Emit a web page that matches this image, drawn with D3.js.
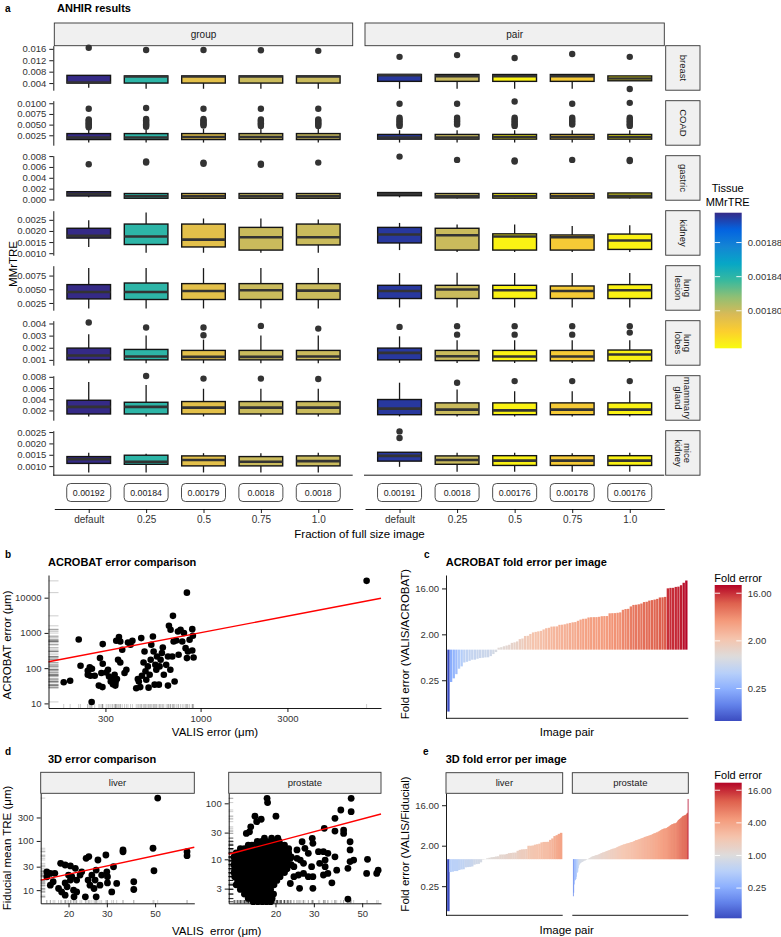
<!DOCTYPE html>
<html><head><meta charset="utf-8">
<script src="https://cdn.jsdelivr.net/npm/d3@7"></script>
<style>
body{margin:0;background:#fff;}
svg{display:block;}
</style></head><body>
<script>
// ================= DATA =================
// ---- panel a ----
const fractions = ["default","0.25","0.5","0.75","1.0"];
const modes = ["group","pair"];
const tissues = ["breast","COAD","gastric","kidney","lung lesion","lung lobes","mammary gland","mice kidney"];
const tissueStripLines = [["breast"],["COAD"],["gastric"],["kidney"],["lung","lesion"],["lung","lobes"],["mammary","gland"],["mice","kidney"]];
const meanGroup = [0.00192,0.00184,0.00179,0.0018,0.0018];
const meanPair  = [0.00191,0.0018,0.00176,0.00178,0.00176];
const meanGroupLabels = ["0.00192","0.00184","0.00179","0.0018","0.0018"];
const meanPairLabels  = ["0.00191","0.0018","0.00176","0.00178","0.00176"];
// each box: [lowerWhisker, q1, median, q3, upperWhisker, outliers]; 5 group boxes then 5 pair boxes
const breastBoxes = [
 [0.0024,0.0040,0.0042,0.0067,0.0067,[0.0164]],
 [0.0020,0.0040,0.0063,0.0065,0.0065,[0.0156]],
 [0.0020,0.0040,0.0063,0.0065,0.0065,[0.0156]],
 [0.0020,0.0040,0.0063,0.0065,0.0065,[0.0155]],
 [0.0020,0.0040,0.0063,0.0065,0.0065,[0.0153]],
 [0.0020,0.0046,0.0068,0.0070,0.0070,[0.0132]],
 [0.0020,0.0046,0.0064,0.0070,0.0070,[0.0138]],
 [0.0020,0.0046,0.0064,0.0070,0.0070,[0.0128]],
 [0.0020,0.0046,0.0064,0.0070,0.0070,[0.0142]],
 [0.0048,0.0048,0.0056,0.0065,0.0065,[0.0132,0.0019]]];
const coadBoxes = [
 [0.0008,0.0015,0.0020,0.0029,0.0039,[0.0087,0.0062,0.0059,0.0056,0.0053,0.0050,0.0047,0.0044]],
 [0.0008,0.0015,0.0020,0.0029,0.0039,[0.0089,0.0063,0.0060,0.0057,0.0054,0.0051,0.0048,0.0045]],
 [0.0008,0.0015,0.0021,0.0029,0.0040,[0.0087,0.0063,0.0060,0.0057,0.0054,0.0051,0.0048]],
 [0.0008,0.0015,0.0021,0.0029,0.0040,[0.0087,0.0062,0.0059,0.0056,0.0053,0.0050,0.0047]],
 [0.0008,0.0015,0.0021,0.0029,0.0040,[0.0087,0.0062,0.0059,0.0056,0.0053,0.0050,0.0047]],
 [0.0008,0.0016,0.0020,0.0027,0.0037,[0.0099,0.0066,0.0062,0.0058,0.0054,0.0050,0.0047]],
 [0.0008,0.0016,0.0020,0.0027,0.0037,[0.0099,0.0066,0.0062,0.0058,0.0054,0.0050]],
 [0.0008,0.0016,0.0021,0.0027,0.0037,[0.0104,0.0066,0.0062,0.0058,0.0054,0.0050,0.0047]],
 [0.0008,0.0016,0.0021,0.0027,0.0037,[0.0099,0.0066,0.0062,0.0058,0.0054,0.0050]],
 [0.0008,0.0016,0.0021,0.0027,0.0037,[0.0101,0.0066,0.0062,0.0058,0.0054,0.0050,0.0047]]];
const gastricBoxes = [
 [0.0004,0.00065,0.0010,0.00144,0.0015,[0.0065]],
 [0.0001,0.00023,0.0006,0.0011,0.0012,[0.0070,0.0068]],
 [0.0001,0.00023,0.0006,0.0011,0.0011,[0.0068,0.0066]],
 [0.0001,0.00023,0.0006,0.0011,0.0011,[0.0066,0.0064]],
 [0.0001,0.00023,0.0006,0.0011,0.0011,[0.0068]],
 [0.0004,0.00070,0.0010,0.00128,0.0013,[0.0079]],
 [0.0002,0.00030,0.0006,0.0011,0.0012,[0.0073]],
 [0.0002,0.00025,0.0006,0.0011,0.0012,[0.0072,0.0070]],
 [0.0002,0.00025,0.0006,0.0011,0.0011,[0.0073]],
 [0.0002,0.00030,0.0007,0.0012,0.0012,[0.0073,0.0071]]];
const kidneyBoxes = [
 [0.00128,0.00168,0.00178,0.00212,0.00248,[]],
 [0.00102,0.00139,0.00175,0.00231,0.00283,[]],
 [0.00102,0.00128,0.00161,0.00231,0.00256,[]],
 [0.00102,0.00114,0.00172,0.00216,0.00256,[]],
 [0.00102,0.00137,0.00172,0.00231,0.00251,[]],
 [0.00114,0.00146,0.00184,0.00216,0.00236,[]],
 [0.00105,0.00114,0.00181,0.00212,0.00229,[]],
 [0.00105,0.00114,0.00175,0.00187,0.00229,[]],
 [0.00105,0.00114,0.00172,0.00182,0.00222,[]],
 [0.00105,0.00117,0.00157,0.00186,0.00226,[]]];
const lungLesionBoxes = [
 [0.00150,0.00324,0.00451,0.00585,0.00886,[]],
 [0.00150,0.00313,0.00451,0.00614,0.00886,[]],
 [0.00150,0.00313,0.00469,0.00603,0.00886,[]],
 [0.00150,0.00313,0.00482,0.00603,0.00886,[]],
 [0.00150,0.00313,0.00476,0.00603,0.00886,[]],
 [0.00168,0.00331,0.00469,0.00572,0.00795,[]],
 [0.00168,0.00331,0.00495,0.00572,0.00800,[]],
 [0.00168,0.00331,0.00482,0.00572,0.00795,[]],
 [0.00168,0.00331,0.00469,0.00560,0.00795,[]],
 [0.00168,0.00331,0.00482,0.00585,0.00795,[]]];
const lungLobesBoxes = [
 [0.00072,0.00100,0.00136,0.00197,0.00311,[0.00408]],
 [0.00072,0.00100,0.00128,0.00186,0.00300,[0.00367]],
 [0.00072,0.00100,0.00125,0.00178,0.00267,[0.00367,0.00303]],
 [0.00072,0.00100,0.00125,0.00178,0.00300,[0.00380]],
 [0.00072,0.00100,0.00128,0.00178,0.00300,[0.00358]],
 [0.00075,0.00100,0.00158,0.00197,0.00294,[0.00372]],
 [0.00075,0.00094,0.00130,0.00178,0.00261,[0.00378,0.00308]],
 [0.00075,0.00092,0.00128,0.00178,0.00261,[0.00378,0.00308]],
 [0.00075,0.00092,0.00128,0.00178,0.00261,[0.00378,0.00308]],
 [0.00075,0.00092,0.00144,0.00181,0.00261,[0.00378,0.00325]]];
const mammaryBoxes = [
 [0.00094,0.00137,0.00263,0.00382,0.00706,[]],
 [0.00094,0.00137,0.00263,0.00346,0.00652,[0.00814]],
 [0.00094,0.00137,0.00250,0.00359,0.00587,[0.00768]],
 [0.00094,0.00137,0.00250,0.00359,0.00587,[0.00768]],
 [0.00094,0.00137,0.00250,0.00359,0.00587,[0.00760]],
 [0.00094,0.00124,0.00232,0.00395,0.00695,[]],
 [0.00094,0.00124,0.00214,0.00335,0.00575,[0.00695]],
 [0.00094,0.00124,0.00202,0.00335,0.00544,[0.00724]],
 [0.00094,0.00124,0.00214,0.00335,0.00544,[0.00724]],
 [0.00094,0.00124,0.00214,0.00335,0.00544,[0.00724]]];
const miceKidneyBoxes = [
 [0.00072,0.00112,0.00130,0.00142,0.00159,[]],
 [0.00072,0.00108,0.00119,0.00148,0.00154,[]],
 [0.00072,0.00101,0.00127,0.00145,0.00157,[]],
 [0.00072,0.00101,0.00119,0.00142,0.00157,[]],
 [0.00072,0.00101,0.00122,0.00145,0.00159,[]],
 [0.00097,0.00122,0.00145,0.00161,0.00161,[0.00253,0.00224]],
 [0.00075,0.00108,0.00127,0.00145,0.00159,[]],
 [0.00075,0.00103,0.00124,0.00146,0.00159,[]],
 [0.00075,0.00103,0.00124,0.00146,0.00157,[]],
 [0.00075,0.00103,0.00124,0.00146,0.00159,[]]];
const tissueBoxes = [breastBoxes,coadBoxes,gastricBoxes,kidneyBoxes,lungLesionBoxes,lungLobesBoxes,mammaryBoxes,miceKidneyBoxes];
const tissueYDomains = [[0.0015,0.0171],[0.00018,0.0106],[-0.00013,0.00807],[0.00091,0.00291],[0.00118,0.0093],[0.00056,0.00423],[0.00026,0.0082],[0.0006,0.00256]];
const tissueTicks = [[0.004,0.008,0.012,0.016],[0.0025,0.005,0.0075,0.01],[0,0.002,0.004,0.006,0.008],[0.001,0.0015,0.002,0.0025],[0.0025,0.005,0.0075],[0.001,0.002,0.003,0.004],[0.002,0.004,0.006,0.008],[0.001,0.0015,0.002,0.0025]];
const tissueTickLabels = [["0.004","0.008","0.012","0.016"],["0.0025","0.0050","0.0075","0.0100"],["0.000","0.002","0.004","0.006","0.008"],["0.0010","0.0015","0.0020","0.0025"],["0.0025","0.0050","0.0075"],["0.001","0.002","0.003","0.004"],["0.002","0.004","0.006","0.008"],["0.0010","0.0015","0.0020","0.0025"]];
const tissueLegendDomain = [0.001756,0.001915];
const tissueLegendTicks = [0.0018,0.00184,0.00188];
const tissueLegendLabels = ["0.00180","0.00184","0.00188"];

// ---- panel b : ACROBAT (VALIS error, ACROBAT error) in µm ----
const acrobatValis = [841,8170,177,192,214,219,240,246,253,240,248,252,262,276,280,290,285,289,290,303,310,314,321,327,330,337,340,344,347,352,356,362,362,341,371,382,391,399,412,422,443,452,458,466,472,476,486,492,498,503,513,518,525,532,536,547,552,559,564,571,576,590,595,603,613,620,628,647,662,670,682,699,662,705,711,720,684,735,751,757,776,793,810,827,841,852,870,900,907,900,915];
const acrobatErr   = [13900,30000,40,44,650,117,84,105,96,65,61,11,61,32,193,482,73,29,133,75,90,58,42,52,35,65,32,597,49,173,760,570,145,39,332,73,90,535,460,597,27,49,42,29,713,61,145,297,82,47,112,28,65,173,460,790,297,34,124,90,214,34,112,173,268,385,65,124,214,1590,90,214,32,3050,570,42,1225,610,1100,240,1225,570,990,370,193,297,640,1280,830,317,200];
const acrobatFit = [[146,152],[9800,9600]];
const acrobatXTicks = [300,1000,3000];
const acrobatYTicks = [10,100,1000,10000];

// ---- panel d : 3D (VALIS error, fiducial mean TRE) in µm ----
const liverValis = [51.4,15.9,16.5,17.3,18.4,19.3,20.4,21.5,16.5,17,18,18.6,19.3,19.7,20.7,21.1,21.8,20,22.6,23,21.2,23.9,24.1,24.6,25.1,25.6,26.2,26.8,27.3,26.5,26.8,27.9,28.4,29.7,30,30.2,30.2,31.6,32.2,33.3,35.6,35.6,39.9,39.9,48.9,49.4,70.1,70.1,15.9,20.4,19.3,21.8,24.8];
const liverFid   = [743,23.6,21.9,22,35,32.4,31,27.7,12.6,14.8,10.8,9.2,7.9,11.7,18.7,10,16,20.2,20.2,23.6,7.3,7.3,44.4,16,12.6,20.2,10.8,25.6,41,16,7.3,12.6,20.2,51.8,23.6,18.7,14,9.2,29.9,13.7,60.3,65.6,14.8,10.3,71,24.8,60.3,50.1,18.7,16,14,9.2,48];
// prostate: scattered points, then the dense cluster row by row
const prostateValis = [18.3,18.4,44.5,39.9,44.5,16.1,20.1,17.2,16.4,15.4,15.2,14.7,37.5,37.5,41.1,41.1,33.5,44,44,44,43,43,52.9,58.3,59.2,52.4,29.5,29.7,26.5,27.3,28.3,31.5,33.2,34.8,33.8,26,26.9,29.3,31.9,33.8,33.2,34.8,36.3,29.7,29.7,25.8,25.5,26.9,28.3,25.1,24.3,24.3,23.4,22.7,23.4,25.1,37.5,45.7,38.2,
 17.8,19.2,20.5,
 16.5,17.3,18.1,19.0,19.9,20.8,
 15.0,15.6,16.2,16.8,17.5,18.2,18.9,19.6,20.4,21.2,22.0,
 13.8,14.4,15.0,15.6,16.2,16.9,17.6,18.3,19.0,19.7,20.5,21.3,22.1,23.0,
 13.2,13.8,14.4,15.0,15.6,16.2,16.9,17.6,18.3,19.0,19.7,20.5,21.3,22.1,23.0,
 12.9,13.4,13.9,14.5,15.0,15.6,16.2,16.9,17.5,18.2,18.9,19.7,20.4,21.2,22.0,22.8,23.6,
 13.0,13.6,14.2,14.8,15.4,16.0,16.6,17.3,18.0,18.7,19.4,20.2,21.0,21.8,22.6,
 12.9,13.4,13.9,14.5,15.0,15.6,16.2,16.9,17.5,18.2,18.9,19.7,20.4,21.2,22.0,22.8,23.6,
 13.0,13.6,14.2,14.8,15.4,16.0,16.6,17.3,18.0,18.7,19.4,20.2,21.0,21.8,22.6,
 12.9,13.4,13.9,14.5,15.0,15.6,16.2,16.9,17.5,18.2,18.9,19.7,20.4,21.2,22.0,
 13.0,13.6,14.2,14.8,15.4,16.0,16.6,17.3,18.0,18.7,19.4,20.2,21.0,
 13.4,14.0,14.6,15.2,15.9,16.6,17.3,18.0,18.7,19.5,20.3,
 13.2,13.8,14.4,15.0,15.6,16.2,16.9,17.6,18.3,19.0,19.7,
 13.8,14.4,15.0,15.6,16.2,16.9,17.6,18.3,19.0,
 14.4,15.0,15.6,16.2,16.9,17.6,18.3,19.0,19.6,
 15.0,15.6,16.3,17.0,17.7,18.5,19.3,
 15.8,16.6,17.4,18.2,19.0];
const prostateFid = [123,103,123,76,71,59,59,52,47,38,31,29,54,32,33.3,29,35.8,20.6,14.7,9.1,6.9,1.95,10,5.6,6.4,5.6,23.7,19.3,20.6,15.7,12.8,13.7,13.7,12.8,9.7,9.7,8.5,7.4,8.5,7.4,5.25,5.6,3.8,4.9,3.03,3.03,5.25,5.6,4.9,10.4,7.4,4.9,3.7,14.7,10.4,14.7,11.1,9.7,6.4,
 24,24,24,
 21,21,21,21,21,21,
 18,18,18,18,18,18,18,18,18,18,18,
 15.5,15.5,15.5,15.5,15.5,15.5,15.5,15.5,15.5,15.5,15.5,15.5,15.5,15.5,
 13,13,13,13,13,13,13,13,13,13,13,13,13,13,13,
 11,11,11,11,11,11,11,11,11,11,11,11,11,11,11,11,11,
 9.4,9.4,9.4,9.4,9.4,9.4,9.4,9.4,9.4,9.4,9.4,9.4,9.4,9.4,9.4,
 8,8,8,8,8,8,8,8,8,8,8,8,8,8,8,8,8,
 6.8,6.8,6.8,6.8,6.8,6.8,6.8,6.8,6.8,6.8,6.8,6.8,6.8,6.8,6.8,
 5.8,5.8,5.8,5.8,5.8,5.8,5.8,5.8,5.8,5.8,5.8,5.8,5.8,5.8,5.8,
 4.9,4.9,4.9,4.9,4.9,4.9,4.9,4.9,4.9,4.9,4.9,4.9,4.9,
 4.2,4.2,4.2,4.2,4.2,4.2,4.2,4.2,4.2,4.2,4.2,
 3.5,3.5,3.5,3.5,3.5,3.5,3.5,3.5,3.5,3.5,3.5,
 2.9,2.9,2.9,2.9,2.9,2.9,2.9,2.9,2.9,
 2.4,2.4,2.4,2.4,2.4,2.4,2.4,2.4,2.4,
 2.0,2.0,2.0,2.0,2.0,2.0,2.0,
 1.75,1.75,1.75,1.75,1.75];
const liverFit = [[14.9,16],[75.7,74.3]];
const prostateFit = [[12.2,12.3],[61,64.4]];
const liverXTicks = [20,30,50], liverYTicks = [10,30,100,300];
const prostateXTicks = [20,30,50], prostateYTicks = [3,10,30,100];
const foldTicksC = [0.25,2,16], foldLabelsC = ["0.25","2.00","16.00"];
const foldLegendTicksE = [0.25,1,4,16], foldLegendLabelsE = ["0.25","1.00","4.00","16.00"];

// ================= DRAWING =================
const FONT = "'Liberation Sans', Arial, Helvetica, sans-serif";
const svg = d3.select("body").append("svg").attr("width",781).attr("height",937)
  .attr("font-family",FONT);
const defs = svg.append("defs");

function txt(x,y,s,o={}){
  const t = svg.append("text").attr("x",x).attr("y",y).text(s)
    .attr("font-size",o.size||10).attr("fill",o.fill||"#000")
    .attr("text-anchor",o.anchor||"start");
  if(o.bold) t.attr("font-weight","bold");
  if(o.rotate!=null) t.attr("transform",`rotate(${o.rotate},${x},${y})`);
  if(o.pre) t.style("white-space","pre");
  return t;
}
function styleAxis(g,size){
  g.attr("font-family",FONT).attr("font-size",size);
  g.select(".domain").attr("stroke","#000").attr("stroke-width",0.9);
  g.selectAll(".tick line").attr("stroke","#000").attr("stroke-width",0.9);
  g.selectAll(".tick text").attr("fill","#333");
}
function hline(x1,x2,y,col="#000",w=0.9){svg.append("line").attr("x1",x1).attr("x2",x2).attr("y1",y).attr("y2",y).attr("stroke",col).attr("stroke-width",w);}
function strip(x,y,w,h,label,size){
  svg.append("rect").attr("x",x).attr("y",y).attr("width",w).attr("height",h).attr("fill","#f0f0f0").attr("stroke","#333").attr("stroke-width",0.9);
  txt(x+w/2,y+h/2,label,{size:size,anchor:"middle",fill:"#1a1a1a"}).attr("dy","0.35em");
}
function colorbar(id,x0,yTop,w,yBot,pos,colorOfVal,ticks,labels){
  const g = defs.append("linearGradient").attr("id",id).attr("x1",0).attr("y1",1).attr("x2",0).attr("y2",0);
  for(let k=0;k<=60;k++){
    const t=k/60, yy=yBot-t*(yBot-yTop);
    g.append("stop").attr("offset",t).attr("stop-color",colorOfVal(pos.invert(yy)));
  }
  svg.append("rect").attr("x",x0).attr("y",yTop).attr("width",w).attr("height",yBot-yTop).attr("fill",`url(#${id})`);
  ticks.forEach((v,i)=>{
    const yy=pos(v);
    svg.append("line").attr("x1",x0).attr("x2",x0+w/5).attr("y1",yy).attr("y2",yy).attr("stroke","#fff").attr("stroke-width",0.9);
    svg.append("line").attr("x1",x0+w-w/5).attr("x2",x0+w).attr("y1",yy).attr("y2",yy).attr("stroke","#fff").attr("stroke-width",0.9);
    txt(x0+w+6,yy,labels[i],{size:9.5,fill:"#333"}).attr("dy","0.35em");
  });
}

// ---------- Panel a ----------
txt(5,12,"a",{size:10,bold:true});
txt(57,12,"ANHIR results",{size:11,bold:true});
const aX = [[54.3,352.7],[365,664.3]];
const rowTop0 = 45.7, rowStep = 55.0, rowH = 44.5;
const parula = d3.piecewise(d3.interpolateRgb,["#f9fb0e","#fcce2e","#d9ba56","#92bf73","#38b99e","#06a7c6","#1485d4","#0363e1","#352a87"]);
const fillOf = v => parula(Math.max(0,Math.min(1,(v-tissueLegendDomain[0])/(tissueLegendDomain[1]-tissueLegendDomain[0]))));
const aXScales = aX.map(r=>d3.scalePoint().domain(fractions).range(r).padding(0.6));

modes.forEach((m,mi)=>strip(aX[mi][0],23,aX[mi][1]-aX[mi][0],22.7,m,10));

tissues.forEach((t,i)=>{
  const top=rowTop0+i*rowStep, bot=top+rowH;
  const y=d3.scaleLinear().domain(tissueYDomains[i]).range([bot,top]);
  const ga=svg.append("g").attr("transform",`translate(${aX[0][0]-1},0)`)
    .call(d3.axisLeft(y).tickValues(tissueTicks[i]).tickFormat((d,j)=>tissueTickLabels[i][j]).tickSize(4).tickPadding(3).tickSizeOuter(0));
  styleAxis(ga,9.5);
  modes.forEach((m,mi)=>{
    const x=aXScales[mi], bw=x.step()*0.76;
    const means = mi===0?meanGroup:meanPair;
    fractions.forEach((f,fi)=>{
      const b=tissueBoxes[i][mi*5+fi], cx=x(f);
      const g=svg.append("g");
      g.append("line").attr("x1",cx).attr("x2",cx).attr("y1",y(b[0])).attr("y2",y(b[1])).attr("stroke","#1a1a1a").attr("stroke-width",1.3);
      g.append("line").attr("x1",cx).attr("x2",cx).attr("y1",y(b[3])).attr("y2",y(b[4])).attr("stroke","#1a1a1a").attr("stroke-width",1.3);
      g.append("rect").attr("x",cx-bw/2).attr("y",y(b[3])).attr("width",bw).attr("height",Math.max(0.5,y(b[1])-y(b[3])))
        .attr("fill",fillOf(means[fi])).attr("stroke","#141414").attr("stroke-width",1.4);
      g.append("line").attr("x1",cx-bw/2).attr("x2",cx+bw/2).attr("y1",y(b[2])).attr("y2",y(b[2])).attr("stroke","#333").attr("stroke-width",2.6);
      b[5].forEach(o=>g.append("circle").attr("cx",cx).attr("cy",y(o)).attr("r",3.2).attr("fill","#333"));
    });
  });
  // row strip
  const sx=665.7, sw=34.3, cy=top+rowH/2;
  svg.append("rect").attr("x",sx).attr("y",top).attr("width",sw).attr("height",rowH).attr("fill","#f0f0f0").attr("stroke","#333").attr("stroke-width",0.9);
  const lines=tissueStripLines[i];
  const st=svg.append("text").attr("transform",`translate(${sx+sw/2},${cy}) rotate(90)`).attr("font-size",9.5).attr("fill","#1a1a1a").attr("text-anchor","middle");
  lines.forEach((l,li)=>st.append("tspan").attr("x",0).attr("dy",li===0?(0.35-(lines.length-1)*0.5)+"em":"1em").text(l));
});
// bottom line of last row
const lastBot=rowTop0+7*rowStep+rowH;
aX.forEach(r=>hline(r[0]-1,r[1],lastBot));
// mean labels row
modes.forEach((m,mi)=>{
  const x=aXScales[mi];
  const labs = mi===0?meanGroupLabels:meanPairLabels;
  fractions.forEach((f,fi)=>{
    const cx=x(f);
    svg.append("rect").attr("x",cx-22).attr("y",483.5).attr("width",44).attr("height",18).attr("rx",4).attr("fill","#fff").attr("stroke","#222").attr("stroke-width",0.8);
    txt(cx,492.5,labs[fi],{size:8.8,anchor:"middle",fill:"#1a1a1a"}).attr("dy","0.35em");
  });
  const gx=svg.append("g").attr("transform","translate(0,509)").call(d3.axisBottom(x).tickSize(4).tickPadding(3).tickSizeOuter(0));
  styleAxis(gx,10);
});
txt(359.5,538,"Fraction of full size image",{size:11.5,anchor:"middle",fill:"#000"});
txt(16.5,264,"MMrTRE",{size:11.5,anchor:"middle",rotate:-90});
// legend a
txt(727.7,191.7,"Tissue",{size:11,anchor:"middle"});
txt(727.7,206,"MMrTRE",{size:11,anchor:"middle"});
const aLegPos=d3.scaleLinear().domain(tissueLegendDomain).range([348.3,212.7]);
colorbar("gradA",714.7,212.7,27,348.3,aLegPos,fillOf,tissueLegendTicks,tissueLegendLabels);

// ---------- Panel b ----------
txt(5,558,"b",{size:10,bold:true});
txt(48,566,"ACROBAT error comparison",{size:11,bold:true});
const bX=d3.scaleLog().domain([146,9800]).range([48.5,381]);
const bY=d3.scaleLog().domain([7.4,44000]).range([708,575]);
const bPts=acrobatValis.map((v,i)=>[v,acrobatErr[i]]);
bPts.forEach(p=>{
  svg.append("line").attr("x1",48.5).attr("x2",58.5).attr("y1",bY(p[1])).attr("y2",bY(p[1])).attr("stroke","#000").attr("stroke-opacity",0.25).attr("stroke-width",0.8);
  svg.append("line").attr("x1",bX(p[0])).attr("x2",bX(p[0])).attr("y1",708).attr("y2",704).attr("stroke","#000").attr("stroke-opacity",0.25).attr("stroke-width",0.8);
});
bPts.forEach(p=>svg.append("circle").attr("cx",bX(p[0])).attr("cy",bY(p[1])).attr("r",3.3).attr("fill","#000"));
svg.append("line").attr("x1",bX(acrobatFit[0][0])).attr("y1",bY(acrobatFit[0][1])).attr("x2",bX(acrobatFit[1][0])).attr("y2",bY(acrobatFit[1][1])).attr("stroke","#ff0000").attr("stroke-width",1.4);
let g=svg.append("g").attr("transform","translate(48.5,0)").call(d3.axisLeft(bY).tickValues(acrobatYTicks).tickFormat(d3.format("d")).tickSize(4).tickPadding(3).tickSizeOuter(0));
styleAxis(g,9.5);
g=svg.append("g").attr("transform","translate(0,708)").call(d3.axisBottom(bX).tickValues(acrobatXTicks).tickFormat(d3.format("d")).tickSize(4).tickPadding(3).tickSizeOuter(0));
styleAxis(g,9.5);
txt(215,736,"VALIS error (μm)",{size:11.5,anchor:"middle"});
txt(11,645,"ACROBAT error (μm)",{size:11.5,anchor:"middle",rotate:-90});

// ---------- fold colour helpers ----------
const coolwarm=d3.piecewise(d3.interpolateRgb,["#3b4cc0","#6282ea","#8db0fe","#b8d0f9","#dddcdc","#f5c4ad","#f49a7b","#de604d","#b40426"]);
function foldColor(minF,maxF){
  const s=d3.scaleDiverging(coolwarm).domain([Math.log2(minF),0,Math.log2(maxF)]);
  return f=>s(Math.log2(f));
}

// ---------- Panel c ----------
txt(424,558,"c",{size:10,bold:true});
txt(445.7,566,"ACROBAT fold error per image",{size:11,bold:true});
const foldC=acrobatValis.map((v,i)=>v/acrobatErr[i]).sort((a,b)=>a-b);
const cCol=foldColor(d3.min(foldC),d3.max(foldC));
const cX=d3.scaleBand().domain(d3.range(foldC.length)).range([446.5,688.3]).paddingInner(0.12).paddingOuter(0.3);
const cY=d3.scaleLog().base(2).domain([0.0446,29.4]).range([718.3,575]);
foldC.forEach((f,i)=>{
  const y0=cY(1), y1=cY(f);
  svg.append("rect").attr("x",cX(i)).attr("width",cX.bandwidth()).attr("y",Math.min(y0,y1)).attr("height",Math.abs(y1-y0)).attr("fill",cCol(f));
});
g=svg.append("g").attr("transform","translate(446,0)").call(d3.axisLeft(cY).tickValues(foldTicksC).tickFormat((d,j)=>foldLabelsC[j]).tickSize(4).tickPadding(3).tickSizeOuter(0));
styleAxis(g,9.5);
hline(446,688.3,718.3);
txt(567,736,"Image pair",{size:11.5,anchor:"middle"});
txt(409,644,"Fold error (VALIS/ACROBAT)",{size:11.5,anchor:"middle",rotate:-90});
txt(714.3,581.5,"Fold error",{size:11});
const cLegPos=d3.scaleLog().base(2).domain([d3.min(foldC),d3.max(foldC)]).range([721,585]);
colorbar("gradC",714.7,585,27,721,cLegPos,cCol,foldTicksC,foldLabelsC);

// ---------- Panel d ----------
txt(5,755,"d",{size:10,bold:true});
txt(48,763,"3D error comparison",{size:11,bold:true});
const dPanels=[
  {name:"liver",x:[40.7,194.3],xd:[14.9,75.7],yd:[5.4,930],vx:liverValis,vy:liverFid,fit:liverFit,xt:liverXTicks,yt:liverYTicks},
  {name:"prostate",x:[228.7,381],xd:[12.2,61],yd:[1.64,151],vx:prostateValis,vy:prostateFid,fit:prostateFit,xt:prostateXTicks,yt:prostateYTicks}];
const dTop=793.3, dBot=903.3;
dPanels.forEach(p=>{
  strip(p.x[0],772.3,p.x[1]-p.x[0],21,p.name,9.5);
  const x=d3.scaleLog().domain(p.xd).range(p.x), y=d3.scaleLog().domain(p.yd).range([dBot,dTop]);
  const w=p.x[1]-p.x[0];
  p.vx.forEach((v,i)=>{
    svg.append("line").attr("x1",p.x[0]).attr("x2",p.x[0]+0.03*w).attr("y1",y(p.vy[i])).attr("y2",y(p.vy[i])).attr("stroke","#000").attr("stroke-opacity",0.25).attr("stroke-width",0.8);
    svg.append("line").attr("x1",x(v)).attr("x2",x(v)).attr("y1",dBot).attr("y2",dBot-3.3).attr("stroke","#000").attr("stroke-opacity",0.25).attr("stroke-width",0.8);
  });
  p.vx.forEach((v,i)=>svg.append("circle").attr("cx",x(v)).attr("cy",y(p.vy[i])).attr("r",3.4).attr("fill","#000"));
  svg.append("line").attr("x1",x(p.fit[0][0])).attr("y1",y(p.fit[0][1])).attr("x2",x(p.fit[1][0])).attr("y2",y(p.fit[1][1])).attr("stroke","#ff0000").attr("stroke-width",1.4);
  let ga=svg.append("g").attr("transform",`translate(${p.x[0]},0)`).call(d3.axisLeft(y).tickValues(p.yt).tickFormat(d3.format("d")).tickSize(4).tickPadding(3).tickSizeOuter(0));
  styleAxis(ga,9.5);
  ga=svg.append("g").attr("transform",`translate(0,${dBot})`).call(d3.axisBottom(x).tickValues(p.xt).tickFormat(d3.format("d")).tickSize(4).tickPadding(3).tickSizeOuter(0));
  styleAxis(ga,9.5);
});
txt(216.7,934.5,"VALIS  error (μm)",{size:11.5,anchor:"middle",pre:true});
txt(10.5,848,"Fiducial mean TRE (μm)",{size:11.5,anchor:"middle",rotate:-90});

// ---------- Panel e ----------
txt(423,755,"e",{size:10,bold:true});
txt(445.7,763,"3D fold error per image",{size:11,bold:true});
const foldLiver=liverValis.map((v,i)=>v/liverFid[i]).sort((a,b)=>a-b);
const foldProstate=prostateValis.map((v,i)=>v/prostateFid[i]).sort((a,b)=>a-b);
const allE=foldLiver.concat(foldProstate);
const eCol=foldColor(d3.min(allE),d3.max(allE));
const eY=d3.scaleLog().base(2).domain([0.056,29.5]).range([915.3,793.3]);
const ePanels=[{name:"liver",x:[446,562.7],f:foldLiver},{name:"prostate",x:[572.3,688.3],f:foldProstate}];
ePanels.forEach(p=>{
  strip(p.x[0],772.7,p.x[1]-p.x[0],20.6,p.name,9.5);
  const x=d3.scaleBand().domain(d3.range(p.f.length)).range([p.x[0]+0.5,p.x[1]]).paddingInner(0).paddingOuter(0.3);
  p.f.forEach((f,i)=>{
    const y0=eY(1), y1=eY(f);
    svg.append("rect").attr("x",x(i)).attr("width",x.bandwidth()+0.3).attr("y",Math.min(y0,y1)).attr("height",Math.abs(y1-y0)).attr("fill",eCol(f));
  });
  hline(p.x[0],p.x[1],915.3);
});
g=svg.append("g").attr("transform","translate(446,0)").call(d3.axisLeft(eY).tickValues(foldTicksC).tickFormat((d,j)=>foldLabelsC[j]).tickSize(4).tickPadding(3).tickSizeOuter(0));
styleAxis(g,9.5);
txt(566.7,934,"Image pair",{size:11.5,anchor:"middle"});
txt(409,844,"Fold error (VALIS/Fiducial)",{size:11.5,anchor:"middle",rotate:-90});
txt(714.3,779,"Fold error",{size:11});
const eLegPos=d3.scaleLog().base(2).domain([d3.min(allE),d3.max(allE)]).range([918.3,782.7]);
colorbar("gradE",714.7,782.7,27,918.3,eLegPos,eCol,foldLegendTicksE,foldLegendLabelsE);
</script>
</body></html>
